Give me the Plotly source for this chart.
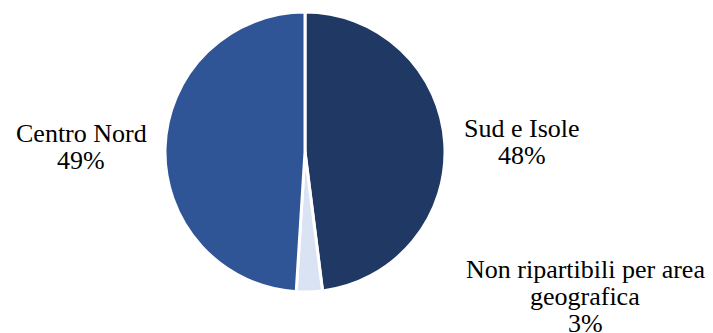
import plotly.graph_objects as go

labels = ["Sud e Isole", "Non ripartibili per area\ngeografica", "Centro Nord"]
values = [48, 3, 49]
colors = ["#203864", "#DAE3F3", "#2F5597"]
# label anchor: centre x and centre y of the first text line (pixels in 713x333 canvas)
label_px = [(522, 128), (585, 269), (81, 133)]
LINE_STEP = 27

FONT = "Times New Roman"
W, H = 713, 333
fig = go.Figure(go.Pie(
    labels=[l.replace("\n", " ") for l in labels], values=values, sort=False,
    direction="clockwise", rotation=0,
    marker=dict(colors=colors, line=dict(color="white", width=3)),
    textinfo="none", hoverinfo="label+percent", showlegend=False,
    domain=dict(x=[165 / W, 445 / W], y=[(H - 292) / H, (H - 12) / H]),
))

for lab, val, (px, py) in zip(labels, values, label_px):
    lines = lab.split("\n") + [f"{val}%"]
    for k, line in enumerate(lines):
        fig.add_annotation(
            x=px / W, y=1 - (py + k * LINE_STEP) / H, xref="paper", yref="paper",
            text=line, showarrow=False,
            xanchor="center", yanchor="middle",
            font=dict(family=FONT, size=26, color="black"),
        )

fig.update_layout(width=W, height=H, margin=dict(l=0, r=0, t=0, b=0),
                  font=dict(family=FONT),
                  paper_bgcolor="white", plot_bgcolor="white")
fig.write_html("out.html", config={"displayModeBar": False},
               post_script="document.body.style.margin='0';")
